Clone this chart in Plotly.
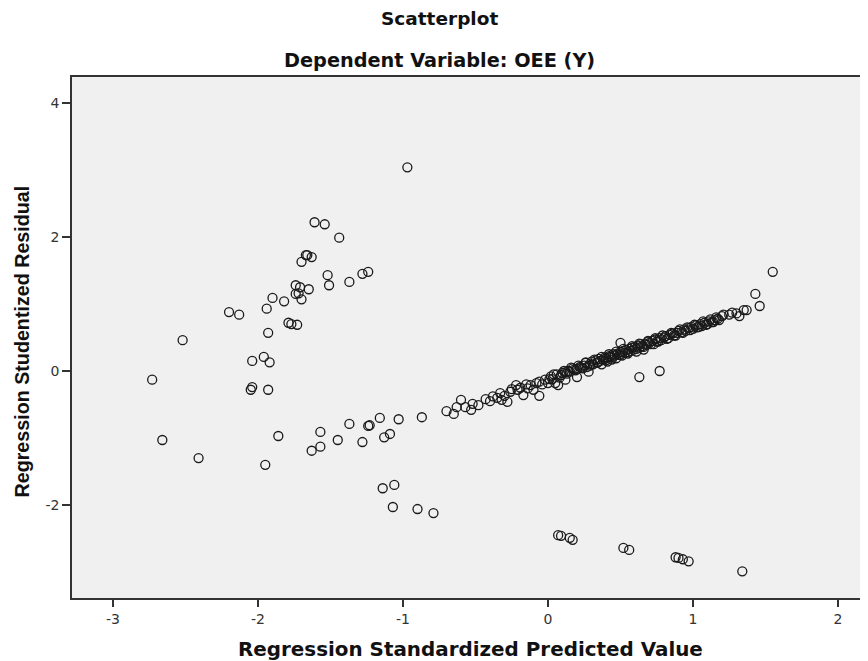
import plotly.graph_objects as go

# Upper-left group of residuals
upper_left_x = [-2.73, -2.52, -2.20, -2.13, -2.04, -1.96, -1.92, -2.04, -2.05, -1.93,
                -1.93, -1.94, -1.90, -1.82, -1.79, -1.77, -1.73, -1.74, -1.72, -1.70,
                -1.74, -1.71, -1.65, -1.70, -1.67, -1.66, -1.63, -1.61, -1.54, -1.44,
                -1.52, -1.51, -1.37, -1.28, -1.24, -0.97]
upper_left_y = [-0.13, 0.46, 0.88, 0.84, 0.15, 0.21, 0.13, -0.24, -0.28, -0.28,
                0.57, 0.93, 1.09, 1.04, 0.72, 0.70, 0.69, 1.15, 1.16, 1.07,
                1.28, 1.25, 1.22, 1.63, 1.73, 1.73, 1.70, 2.22, 2.19, 1.99,
                1.43, 1.28, 1.33, 1.45, 1.48, 3.04]

# Lower-left group of residuals
lower_left_x = [-2.66, -2.41, -1.95, -1.86, -1.63, -1.57, -1.57, -1.45, -1.37, -1.28,
                -1.24, -1.23, -1.16, -1.13, -1.09, -1.03, -0.87, -1.14, -1.06, -1.07,
                -0.90, -0.79]
lower_left_y = [-1.03, -1.30, -1.40, -0.97, -1.19, -1.13, -0.91, -1.03, -0.79, -1.06,
                -0.82, -0.81, -0.70, -0.99, -0.94, -0.72, -0.69, -1.75, -1.70, -2.03,
                -2.06, -2.12]

# Main diagonal band
band_x = [-0.70, -0.65, -0.63, -0.60, -0.57, -0.53, -0.52, -0.48, -0.43, -0.40,
          -0.38, -0.35, -0.33, -0.32, -0.30, -0.28, -0.26, -0.25, -0.22, -0.21,
          -0.19, -0.17, -0.15, -0.14, -0.12, -0.10, -0.08, -0.06, -0.06, -0.04,
          -0.02, 0.00, 0.02, 0.03, 0.05, 0.06, 0.07, 0.08, 0.10, 0.12,
          0.12, 0.14, 0.15, 0.17, 0.18, 0.20, 0.20, 0.22, 0.23, 0.25,
          0.26, 0.27, 0.28, 0.29, 0.30, 0.31, 0.33, 0.34, 0.35, 0.36,
          0.37, 0.38, 0.39, 0.40, 0.41, 0.42, 0.43, 0.44, 0.45, 0.46,
          0.47, 0.48, 0.49, 0.50, 0.51, 0.52, 0.53, 0.54, 0.55, 0.56,
          0.57, 0.58, 0.59, 0.60, 0.61, 0.62, 0.63, 0.64, 0.65, 0.66,
          0.67, 0.68, 0.69, 0.70, 0.72, 0.73, 0.74, 0.75, 0.77, 0.78,
          0.80, 0.81, 0.83, 0.84, 0.86, 0.87, 0.89, 0.90, 0.92, 0.94,
          0.95, 0.97, 0.99, 1.00, 1.02, 1.03, 1.05, 1.06, 1.08, 1.10,
          1.11, 1.13, 1.15, 1.17, 1.20, 1.21, 1.25, 1.27, 1.30, 1.32,
          1.35, 1.37, 1.43, 1.46, 1.55,
          0.50, 0.63, 0.77,
          0.01, 0.04, 0.09, 0.11, 0.13, 0.16, 0.19, 0.21, 0.24, 0.26,
          0.29, 0.32, 0.34, 0.37, 0.40, 0.42, 0.44, 0.47, 0.50, 0.52,
          0.55, 0.58, 0.61, 0.63, 0.66, 0.69, 0.71, 0.74, 0.76, 0.79,
          0.82, 0.85, 0.88, 0.91, 0.93, 0.96, 0.98, 1.01, 1.04, 1.07,
          1.09, 1.12, 1.14, 1.16, 1.18]
band_y = [-0.60, -0.64, -0.54, -0.43, -0.54, -0.58, -0.49, -0.51, -0.42, -0.45,
          -0.38, -0.40, -0.33, -0.43, -0.37, -0.46, -0.31, -0.27, -0.21, -0.28,
          -0.25, -0.36, -0.20, -0.26, -0.21, -0.28, -0.18, -0.37, -0.16, -0.20,
          -0.13, -0.18, -0.08, -0.12, -0.18, -0.05, -0.21, -0.10, -0.03, -0.13,
          -0.02, 0.00, -0.01, 0.04, 0.02, -0.09, 0.03, 0.06, 0.05, 0.08,
          0.12, 0.06, -0.01, 0.10, 0.14, 0.10, 0.16, 0.12, 0.18, 0.15,
          0.10, 0.17, 0.20, 0.19, 0.14, 0.22, 0.21, 0.17, 0.25, 0.23,
          0.19, 0.26, 0.24, 0.28, 0.23, 0.30, 0.27, 0.31, 0.26, 0.33,
          0.30, 0.35, 0.32, 0.36, 0.29, 0.38, 0.35, 0.40, 0.37, 0.32,
          0.41, 0.39, 0.44, 0.42, 0.45, 0.40, 0.47, 0.44, 0.49, 0.46,
          0.50, 0.52, 0.49, 0.54, 0.56, 0.53, 0.57, 0.60, 0.58, 0.62,
          0.60, 0.64, 0.66, 0.63, 0.68, 0.65, 0.70, 0.67, 0.72, 0.70,
          0.74, 0.73, 0.76, 0.78, 0.82, 0.84, 0.84, 0.87, 0.86, 0.82,
          0.91, 0.91, 1.15, 0.97, 1.48,
          0.42, -0.09, 0.00,
          -0.12, -0.05, -0.06, 0.00, -0.04, 0.05, 0.01, 0.08, 0.04, 0.13,
          0.08, 0.17, 0.13, 0.21, 0.16, 0.25, 0.20, 0.29, 0.24, 0.33,
          0.28, 0.37, 0.33, 0.41, 0.36, 0.45, 0.40, 0.49, 0.44, 0.53,
          0.48, 0.57, 0.53, 0.62, 0.57, 0.65, 0.61, 0.69, 0.66, 0.74,
          0.69, 0.77, 0.73, 0.80, 0.76]

# Lower-right group of residuals
lower_right_x = [0.07, 0.09, 0.15, 0.17, 0.52, 0.56, 0.88, 0.90, 0.93, 0.97, 1.34]
lower_right_y = [-2.45, -2.46, -2.49, -2.52, -2.64, -2.67, -2.78, -2.79, -2.81, -2.84, -2.99]

x_ticks = [-3, -2, -1, 0, 1, 2]
y_ticks = [-2, 0, 2, 4]

all_x = upper_left_x + lower_left_x + band_x + lower_right_x
all_y = upper_left_y + lower_left_y + band_y + lower_right_y

fig = go.Figure()
fig.add_trace(go.Scatter(
    x=all_x, y=all_y, mode="markers",
    marker=dict(symbol="circle-open", size=9, color="#1a1a1a", line=dict(width=1.3)),
    showlegend=False, hoverinfo="x+y",
))

axis_font = dict(family="DejaVu Sans, sans-serif", size=14, color="#333333")

# The page body adds an 8px margin, so the figure is 8px smaller and margins shifted.
fig.update_layout(
    width=860, height=653,
    margin=dict(l=64, r=0, t=69, b=63),
    paper_bgcolor="white",
    plot_bgcolor="#F0F0F0",
    xaxis=dict(
        range=[-3.283, 2.207], tickvals=x_ticks, ticktext=[str(v) for v in x_ticks],
        showgrid=False, zeroline=False, showline=True, linecolor="#333333", linewidth=1.5,
        mirror=True, ticks="outside", ticklen=7, tickwidth=1.5, tickcolor="#333333",
        tickfont=axis_font,
    ),
    yaxis=dict(
        range=[-3.388, 4.388], tickvals=y_ticks, ticktext=[str(v) for v in y_ticks],
        showgrid=False, zeroline=False, showline=True, linecolor="#333333", linewidth=1.5,
        ticks="outside", ticklen=8, tickwidth=1.5, tickcolor="#333333",
        tickfont=axis_font,
    ),
    annotations=[
        dict(text="<b>Scatterplot</b>", xref="paper", yref="paper", x=0.4623, y=1.1132,
             xanchor="center", yanchor="middle", showarrow=False,
             font=dict(family="DejaVu Sans, sans-serif", size=18.5, color="#111111")),
        dict(text="<b>Dependent Variable: OEE (Y)</b>", xref="paper", yref="paper", x=0.4623, y=1.0326,
             xanchor="center", yanchor="middle", showarrow=False,
             font=dict(family="DejaVu Sans, sans-serif", size=19.3, color="#111111")),
        dict(text="<b>Regression Standardized Predicted Value</b>", xref="paper", yref="paper",
             x=0.5, y=-0.0998, xanchor="center", yanchor="middle", showarrow=False,
             font=dict(family="DejaVu Sans, sans-serif", size=19.9, color="#111111")),
        dict(text="<b>Regression Studentized Residual</b>", xref="paper", yref="paper",
             x=-0.0628, y=0.4923, xanchor="center", yanchor="middle", showarrow=False,
             textangle=-90,
             font=dict(family="Liberation Sans, Arial, sans-serif", size=19.7, color="#111111")),
    ],
)

fig.write_html("out.html")
